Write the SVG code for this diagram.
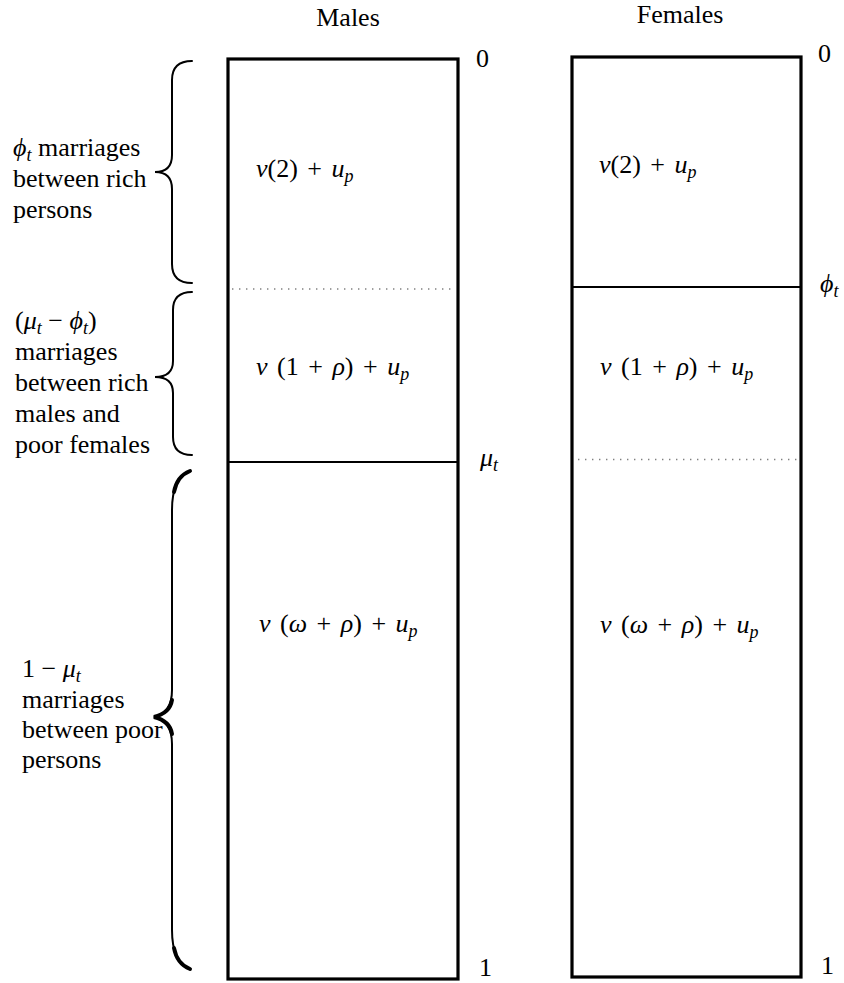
<svg xmlns="http://www.w3.org/2000/svg" width="844" height="983" viewBox="0 0 844 983">
<style>
.t{font-family:'Liberation Serif','DejaVu Serif',serif;font-size:26px;fill:#000}
.f{word-spacing:3px}
.i{font-style:italic}
.sub{font-size:18px;font-style:italic}
.box{fill:none;stroke:#000;stroke-width:3.2}
.div{stroke:#000;stroke-width:2}
.dot{stroke:#808080;stroke-width:1.3;stroke-dasharray:1.4 5.6}
.brace{fill:none;stroke:#000;stroke-width:2;stroke-linecap:round}
.thick{fill:none;stroke:#000;stroke-width:4;stroke-linecap:round}
</style>
<rect width="844" height="983" fill="#fff"/>
<g class="t" font-family="Liberation Serif, DejaVu Serif, serif">
<g id="males">
  <text x="348" y="26" text-anchor="middle">Males</text>
  <rect class="box" x="228" y="59" width="230" height="920"/>
  <line class="dot" x1="232" y1="289" x2="455" y2="289"/>
  <line class="div" x1="228" y1="462" x2="458" y2="462"/>
  <text x="476" y="67">0</text>
  <text x="479" y="976">1</text>
  <text x="480" y="466"><tspan class="i">μ</tspan><tspan class="sub" dy="5">t</tspan></text>
  <text class="f" x="256" y="177"><tspan class="i">v</tspan>(2) + <tspan class="i">u</tspan><tspan class="sub" dy="5">p</tspan></text>
  <text class="f" x="256" y="375"><tspan class="i">v</tspan> (1 + <tspan class="i">ρ</tspan>) + <tspan class="i">u</tspan><tspan class="sub" dy="5">p</tspan></text>
  <text class="f" x="259" y="632"><tspan class="i">v</tspan> (<tspan class="i">ω</tspan> + <tspan class="i">ρ</tspan>) + <tspan class="i">u</tspan><tspan class="sub" dy="5">p</tspan></text>
</g>

<g id="females">
  <text x="680" y="23" text-anchor="middle">Females</text>
  <rect class="box" x="572" y="57" width="229" height="920"/>
  <line class="div" x1="572" y1="287" x2="801" y2="287"/>
  <line class="dot" x1="578" y1="459.5" x2="797" y2="459.5"/>
  <text x="818" y="62">0</text>
  <text x="821" y="974">1</text>
  <text x="820" y="292"><tspan class="i">ϕ</tspan><tspan class="sub" dy="5">t</tspan></text>
  <text class="f" x="599" y="173"><tspan class="i">v</tspan>(2) + <tspan class="i">u</tspan><tspan class="sub" dy="5">p</tspan></text>
  <text class="f" x="600" y="375"><tspan class="i">v</tspan> (1 + <tspan class="i">ρ</tspan>) + <tspan class="i">u</tspan><tspan class="sub" dy="5">p</tspan></text>
  <text class="f" x="600" y="633"><tspan class="i">v</tspan> (<tspan class="i">ω</tspan> + <tspan class="i">ρ</tspan>) + <tspan class="i">u</tspan><tspan class="sub" dy="5">p</tspan></text>
</g>

<g id="label-rich">
  <path class="brace" d="M192,61 Q172,61 172,80 L172,155 Q172,172 155,172 Q172,172 172,189 L172,264 Q172,283 192,283"/>
  <text x="13" y="156"><tspan class="i">ϕ</tspan><tspan class="sub" dy="5">t</tspan><tspan dy="-5"> marriages</tspan></text>
  <text x="13" y="187">between rich</text>
  <text x="13" y="218">persons</text>
</g>

<g id="label-mixed">
  <path class="brace" d="M192,292 Q173,292 173,310 L173,361 Q173,377 155,377 Q173,377 173,393 L173,437 Q173,455 192,455"/>
  <text x="15" y="329">(<tspan class="i">μ</tspan><tspan class="sub" dy="5">t</tspan><tspan dy="-5"> − </tspan><tspan class="i">ϕ</tspan><tspan class="sub" dy="5">t</tspan><tspan dy="-5">)</tspan></text>
  <text x="15" y="360">marriages</text>
  <text x="15" y="391">between rich</text>
  <text x="15" y="422">males and</text>
  <text x="15" y="453">poor females</text>
</g>

<g id="label-poor">
  <path class="brace" stroke-width="1.6" d="M190,471 Q172,478 172,510 L172,690 Q172,713 154,717 Q172,721 172,744 L172,930 Q172,962 190,969"/>
  <path class="thick" d="M190,471 Q177,476 174,492"/>
  <path class="thick" d="M190,969 Q177,964 174,948"/>
  <path class="thick" d="M172,700 Q170,713 154,717 Q170,721 172,734"/>
  <text x="22" y="677">1 − <tspan class="i">μ</tspan><tspan class="sub" dy="5">t</tspan></text>
  <text x="22" y="708">marriages</text>
  <text x="22" y="738">between poor</text>
  <text x="22" y="768">persons</text>
</g>
</g>
</svg>
